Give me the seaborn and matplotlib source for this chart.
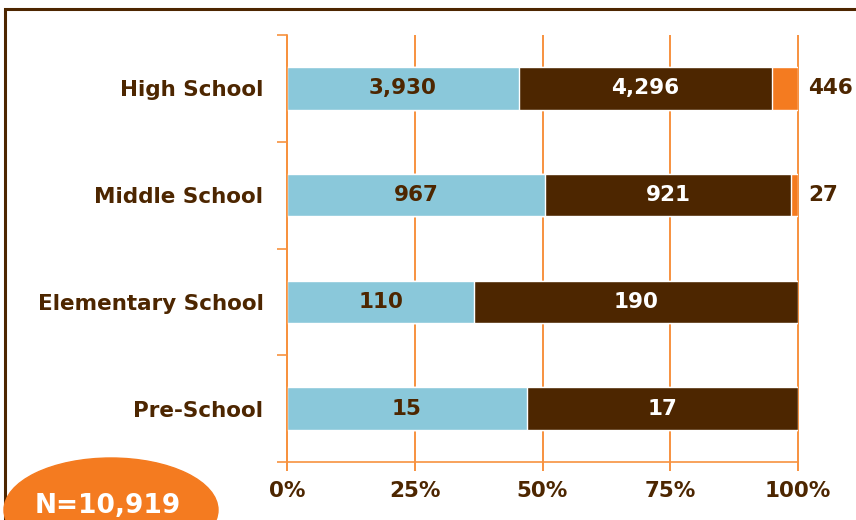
import numpy as np
import pandas as pd
import seaborn as sns
import matplotlib.pyplot as plt
from matplotlib.patches import Ellipse, Rectangle

# dados
niveis = ['High School', 'Middle School', 'Elementary School', 'Pre-School']
azul = [3930, 967, 110, 15]
marrom = [4296, 921, 190, 17]
laranja = [446, 27, 0, 0]
marcas_x = [0, 0.25, 0.5, 0.75, 1.0]
rotulos_x = ['0%', '25%', '50%', '75%', '100%']

COR_AZUL = '#8AC8DA'
COR_MARROM = '#4D2600'
COR_LARANJA = '#F47B20'
COR_LINHA = '#F7923F'
FS = 15.5

df = pd.DataFrame({'nivel': niveis, 'azul': azul, 'marrom': marrom, 'laranja': laranja})
df['total'] = df[['azul', 'marrom', 'laranja']].sum(axis=1)
df['c1'] = df['azul'] / df['total']
df['c2'] = (df['azul'] + df['marrom']) / df['total']
df['c3'] = 1.0

sns.set_style('white')
plt.rcParams['font.family'] = ['DejaVu Sans']

fig = plt.figure(figsize=(8.56, 5.2), dpi=100)
ax = fig.add_axes([287 / 856, 1 - 462 / 520, 511 / 856, 427 / 520])

# barras empilhadas, de tras para frente
sns.barplot(data=df, x='c3', y='nivel', orient='h', color=COR_LARANJA, width=0.4, ax=ax, saturation=1)
sns.barplot(data=df, x='c2', y='nivel', orient='h', color=COR_MARROM, width=0.4, ax=ax, saturation=1)
sns.barplot(data=df, x='c1', y='nivel', orient='h', color=COR_AZUL, width=0.4, ax=ax, saturation=1)

ax.set_xlim(0, 1)
ax.set_ylim(3.5, -0.5)
ax.set_xlabel('')
ax.set_ylabel('')

# grade; as linhas descem um pouco abaixo do eixo x
ax.vlines(marcas_x, -0.5, 3.58, colors=COR_LINHA, lw=1.4, zorder=0.5, clip_on=False)
for s in ['top', 'right']:
    ax.spines[s].set_visible(False)
for s in ['left', 'bottom']:
    ax.spines[s].set_color(COR_LINHA)
    ax.spines[s].set_linewidth(1.2)

ax.set_xticks(marcas_x)
ax.set_xticklabels(rotulos_x)
ax.tick_params(axis='x', length=0, pad=14, labelsize=FS, labelcolor=COR_MARROM)
ax.set_yticks(range(4))
ax.set_yticklabels(niveis)
ax.tick_params(axis='y', which='major', length=0, pad=17, labelsize=FS, labelcolor=COR_MARROM)
ax.set_yticks(np.arange(-0.5, 4, 1), minor=True)
ax.tick_params(axis='y', which='minor', left=True, length=7, color=COR_LINHA, width=1.2)
for t in ax.get_xticklabels() + ax.get_yticklabels():
    t.set_fontweight('bold')

# rotulos
for i, r in df.iterrows():
    ax.text(r['c1'] / 2, i, f"{r['azul']:,}", ha='center', va='center',
            color=COR_MARROM, fontsize=FS, fontweight='bold')
    ax.text((r['c1'] + r['c2']) / 2, i, f"{r['marrom']:,}", ha='center', va='center',
            color='white', fontsize=FS, fontweight='bold')
    if r['laranja'] > 0:
        ax.text(1.02, i, f"{r['laranja']:,}", ha='left', va='center',
                color=COR_MARROM, fontsize=FS, fontweight='bold', clip_on=False)

# moldura e elipse
fig.patches.append(Rectangle((5 / 856, -0.1), 1.2, 1 - 9 / 520 + 0.1, transform=fig.transFigure,
                             fill=False, edgecolor=COR_MARROM, lw=2.2, zorder=0))
fig.patches.append(Ellipse((111 / 856, 1 - 510 / 520), 214 / 856, 104 / 520,
                           transform=fig.transFigure, color=COR_LARANJA, zorder=5))
fig.text(108 / 856, 1 - 506 / 520, 'N=10,919', ha='center', va='center',
         color='white', fontsize=19, fontweight='bold', zorder=6)

fig.savefig('out.png', dpi=100)
